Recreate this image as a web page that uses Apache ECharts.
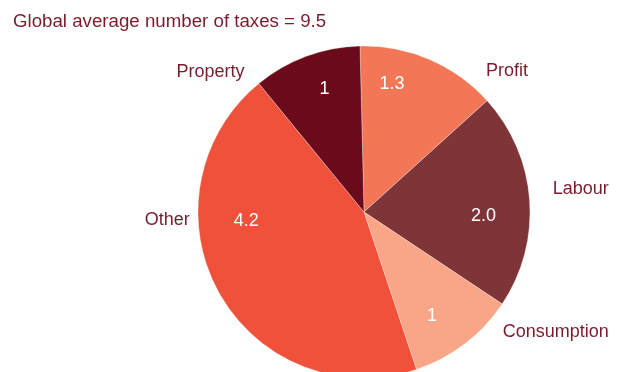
<!DOCTYPE html>
<html>
<head>
<meta charset="utf-8">
<script src="https://cdn.jsdelivr.net/npm/echarts@6/dist/echarts.min.js"></script>
<style>
  html, body { margin: 0; padding: 0; background: #fff; }
  #chart { width: 622px; height: 372px; }
</style>
</head>
<body>
<div id="chart"></div>
<script>
// Number of taxes by type (global average)
const categories = ['Profit', 'Labour', 'Consumption', 'Other', 'Property'];
const taxCounts = [1.3, 2.0, 1, 4.2, 1];
const valueLabels = ['1.3', '2.0', '1', '4.2', '1'];
const titleText = 'Global average number of taxes = 9.5';

// Styling
const sliceColors = ['#f37757', '#7f3538', '#f9a688', '#f0513a', '#6a0a1a'];
const textColor = '#7a1c2d';
const FONT = '"Liberation Sans", Arial, Helvetica, sans-serif';
const CX = 364, CY = 212, R = 166;

// Label placement around the pie: angle clockwise from 12 o'clock, distance from centre
const valuePlacement = [[12.3, 131], [91.7, 119.5], [146.8, 124], [265.6, 118], [342.2, 129]];
const namePlacement = [[45.5, 200.5], [84, 218], [122, 226], [267.8, 197], [312.4, 208]];

function placeAt(p) {
  const a = p[0] * Math.PI / 180;
  return {
    x: CX + p[1] * Math.sin(a),
    y: CY - p[1] * Math.cos(a),
    align: 'center',
    verticalAlign: 'middle'
  };
}

const sliceData = categories.map((c, i) => ({
  name: c,
  value: taxCounts[i],
  itemStyle: { color: sliceColors[i] }
}));

const chart = echarts.init(document.getElementById('chart'), null, { renderer: 'canvas' });
chart.setOption({
  animation: false,
  title: {
    text: titleText,
    left: 13,
    top: 12,
    padding: 0,
    textStyle: { color: textColor, fontSize: 18.7, fontWeight: 'normal', fontFamily: FONT }
  },
  series: [
    {
      type: 'pie',
      center: [CX, CY],
      radius: [0, R],
      startAngle: 91.4,
      clockwise: true,
      silent: true,
      data: sliceData,
      itemStyle: { borderColor: 'rgba(255,255,255,0.6)', borderWidth: 0.5 },
      label: {
        show: true,
        position: 'inside',
        formatter: p => valueLabels[p.dataIndex],
        color: '#fff',
        fontSize: 18,
        fontFamily: FONT
      },
      labelLine: { show: false },
      labelLayout: p => placeAt(valuePlacement[p.dataIndex])
    },
    {
      type: 'pie',
      center: [CX, CY],
      radius: [0, R],
      startAngle: 91.4,
      clockwise: true,
      silent: true,
      z: 3,
      data: categories.map((c, i) => ({ name: c, value: taxCounts[i] })),
      itemStyle: { color: 'rgba(0,0,0,0)' },
      label: {
        show: true,
        position: 'inside',
        overflow: 'none',
        formatter: '{b}',
        color: textColor,
        fontSize: 18,
        fontFamily: FONT
      },
      labelLine: { show: false },
      labelLayout: p => placeAt(namePlacement[p.dataIndex])
    }
  ]
});
</script>
</body>
</html>
